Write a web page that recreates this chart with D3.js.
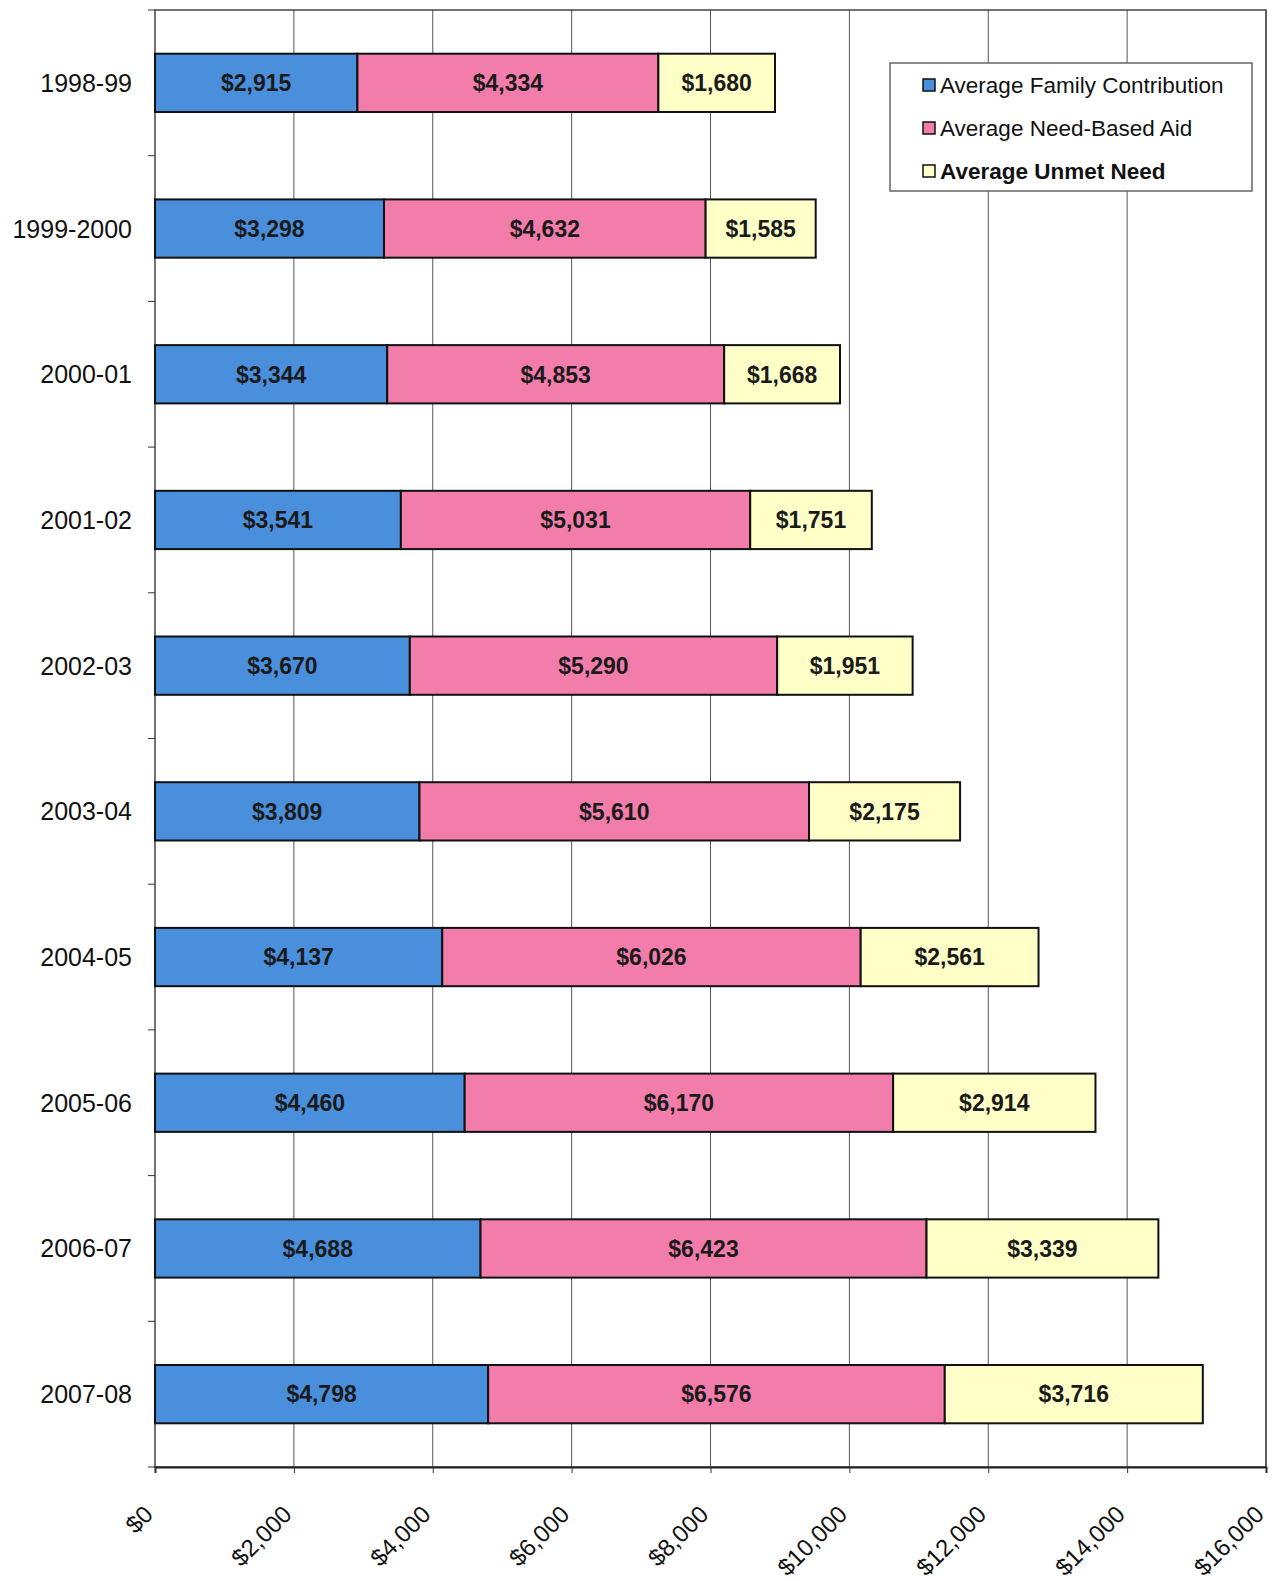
<!DOCTYPE html>
<html>
<head>
<meta charset="utf-8">
<script src="https://cdn.jsdelivr.net/npm/d3@7"></script>
<style>
  body { margin: 0; background: #fff; }
  text { font-family: Arial, "Liberation Sans", sans-serif; }
</style>
</head>
<body>
<svg id="chart"></svg>
<script>
const years = ["1998-99", "1999-2000", "2000-01", "2001-02", "2002-03", "2003-04", "2004-05", "2005-06", "2006-07", "2007-08"];
const familyContribution = [2915, 3298, 3344, 3541, 3670, 3809, 4137, 4460, 4688, 4798];
const needBasedAid = [4334, 4632, 4853, 5031, 5290, 5610, 6026, 6170, 6423, 6576];
const unmetNeed = [1680, 1585, 1668, 1751, 1951, 2175, 2561, 2914, 3339, 3716];
const seriesNames = ["Average Family Contribution", "Average Need-Based Aid", "Average Unmet Need"];
const xTicks = [0, 2000, 4000, 6000, 8000, 10000, 12000, 14000, 16000];

const colors = ["#4a8fdc", "#f27dab", "#ffffc8"];

const width = 1272, height = 1581;
const margin = { top: 10, right: 6, bottom: 114, left: 155 };

const svg = d3.select("#chart").attr("width", width).attr("height", height);

const rows = years.map((y, i) => ({
  year: y,
  values: [familyContribution[i], needBasedAid[i], unmetNeed[i]]
}));

const x = d3.scaleLinear().domain([0, 16000]).range([margin.left, width - margin.right]);
const y = d3.scaleBand().domain(years).range([margin.top, height - margin.bottom]).paddingInner(0.6).paddingOuter(0.3);

// gridlines
svg.append("g")
  .selectAll("line")
  .data(xTicks.slice(1))
  .join("line")
  .attr("x1", (d) => x(d)).attr("x2", (d) => x(d))
  .attr("y1", margin.top).attr("y2", height - margin.bottom)
  .attr("stroke", "#555")
  .attr("stroke-width", 1);

// plot border
svg.append("rect")
  .attr("x", margin.left).attr("y", margin.top)
  .attr("width", x(16000) - margin.left)
  .attr("height", height - margin.bottom - margin.top)
  .attr("fill", "none")
  .attr("stroke", "#444")
  .attr("stroke-width", 1.5);

// stacked bars
const stacked = rows.flatMap((r) => {
  let acc = 0;
  return r.values.map((v, k) => {
    const seg = { year: r.year, k: k, v: v, x0: acc, x1: acc + v };
    acc += v;
    return seg;
  });
});

svg.append("g")
  .selectAll("rect")
  .data(stacked)
  .join("rect")
  .attr("x", (d) => x(d.x0))
  .attr("y", (d) => y(d.year))
  .attr("width", (d) => x(d.x1) - x(d.x0))
  .attr("height", y.bandwidth())
  .attr("fill", (d) => colors[d.k])
  .attr("stroke", "#111")
  .attr("stroke-width", 2);

svg.append("g")
  .selectAll("text")
  .data(stacked)
  .join("text")
  .attr("x", (d) => (x(d.x0) + x(d.x1)) / 2)
  .attr("y", (d) => y(d.year) + y.bandwidth() / 2)
  .attr("dy", "0.36em")
  .attr("text-anchor", "middle")
  .attr("font-size", 23)
  .attr("font-weight", "bold")
  .attr("fill", "#1a1a1a")
  .text((d) => "$" + d3.format(",")(d.v));

// y axis
const yAxis = svg.append("g")
  .attr("transform", `translate(${margin.left},0)`);
const bounds = d3.range(years.length + 1).map((i) => margin.top + i * (height - margin.bottom - margin.top) / years.length);
yAxis.selectAll("line.tick")
  .data(bounds)
  .join("line")
  .attr("class", "tick")
  .attr("x1", -7).attr("x2", 0)
  .attr("y1", (d) => d).attr("y2", (d) => d)
  .attr("stroke", "#333");
yAxis.selectAll("text")
  .data(years)
  .join("text")
  .attr("x", -23)
  .attr("y", (d) => y(d) + y.bandwidth() / 2)
  .attr("dy", "0.36em")
  .attr("text-anchor", "end")
  .attr("font-size", 25)
  .attr("fill", "#111")
  .text((d) => d);

// x axis
const xAxis = svg.append("g")
  .attr("transform", `translate(0,${height - margin.bottom})`)
  .call(d3.axisBottom(x).tickValues(xTicks).tickSize(6).tickFormat((d) => "$" + d3.format(",")(d)));
xAxis.select(".domain").attr("stroke", "#222").attr("stroke-width", 2);
xAxis.selectAll(".tick line").attr("stroke", "#333");
xAxis.selectAll(".tick text")
  .attr("font-size", 24)
  .attr("fill", "#111")
  .attr("text-anchor", "end")
  .attr("transform", "translate(-13,37) rotate(-45)")
  .attr("x", 0).attr("y", 0).attr("dy", "0.7em");

// legend
const legend = svg.append("g").attr("transform", "translate(890,63)");
legend.append("rect")
  .attr("width", 362).attr("height", 128)
  .attr("fill", "#fff")
  .attr("stroke", "#666")
  .attr("stroke-width", 1.5);
const items = legend.selectAll("g")
  .data(seriesNames)
  .join("g")
  .attr("transform", (d, i) => `translate(33,${22 + i * 43})`);
items.append("rect")
  .attr("x", 0).attr("y", -6)
  .attr("width", 12).attr("height", 12)
  .attr("fill", (d, i) => colors[i])
  .attr("stroke", "#111")
  .attr("stroke-width", 1.5);
items.append("text")
  .attr("x", 17)
  .attr("dy", "0.36em")
  .attr("font-size", 22.5)
  .attr("font-weight", (d, i) => (i === 2 ? "bold" : "normal"))
  .attr("fill", "#111")
  .text((d) => d);
</script>
</body>
</html>
